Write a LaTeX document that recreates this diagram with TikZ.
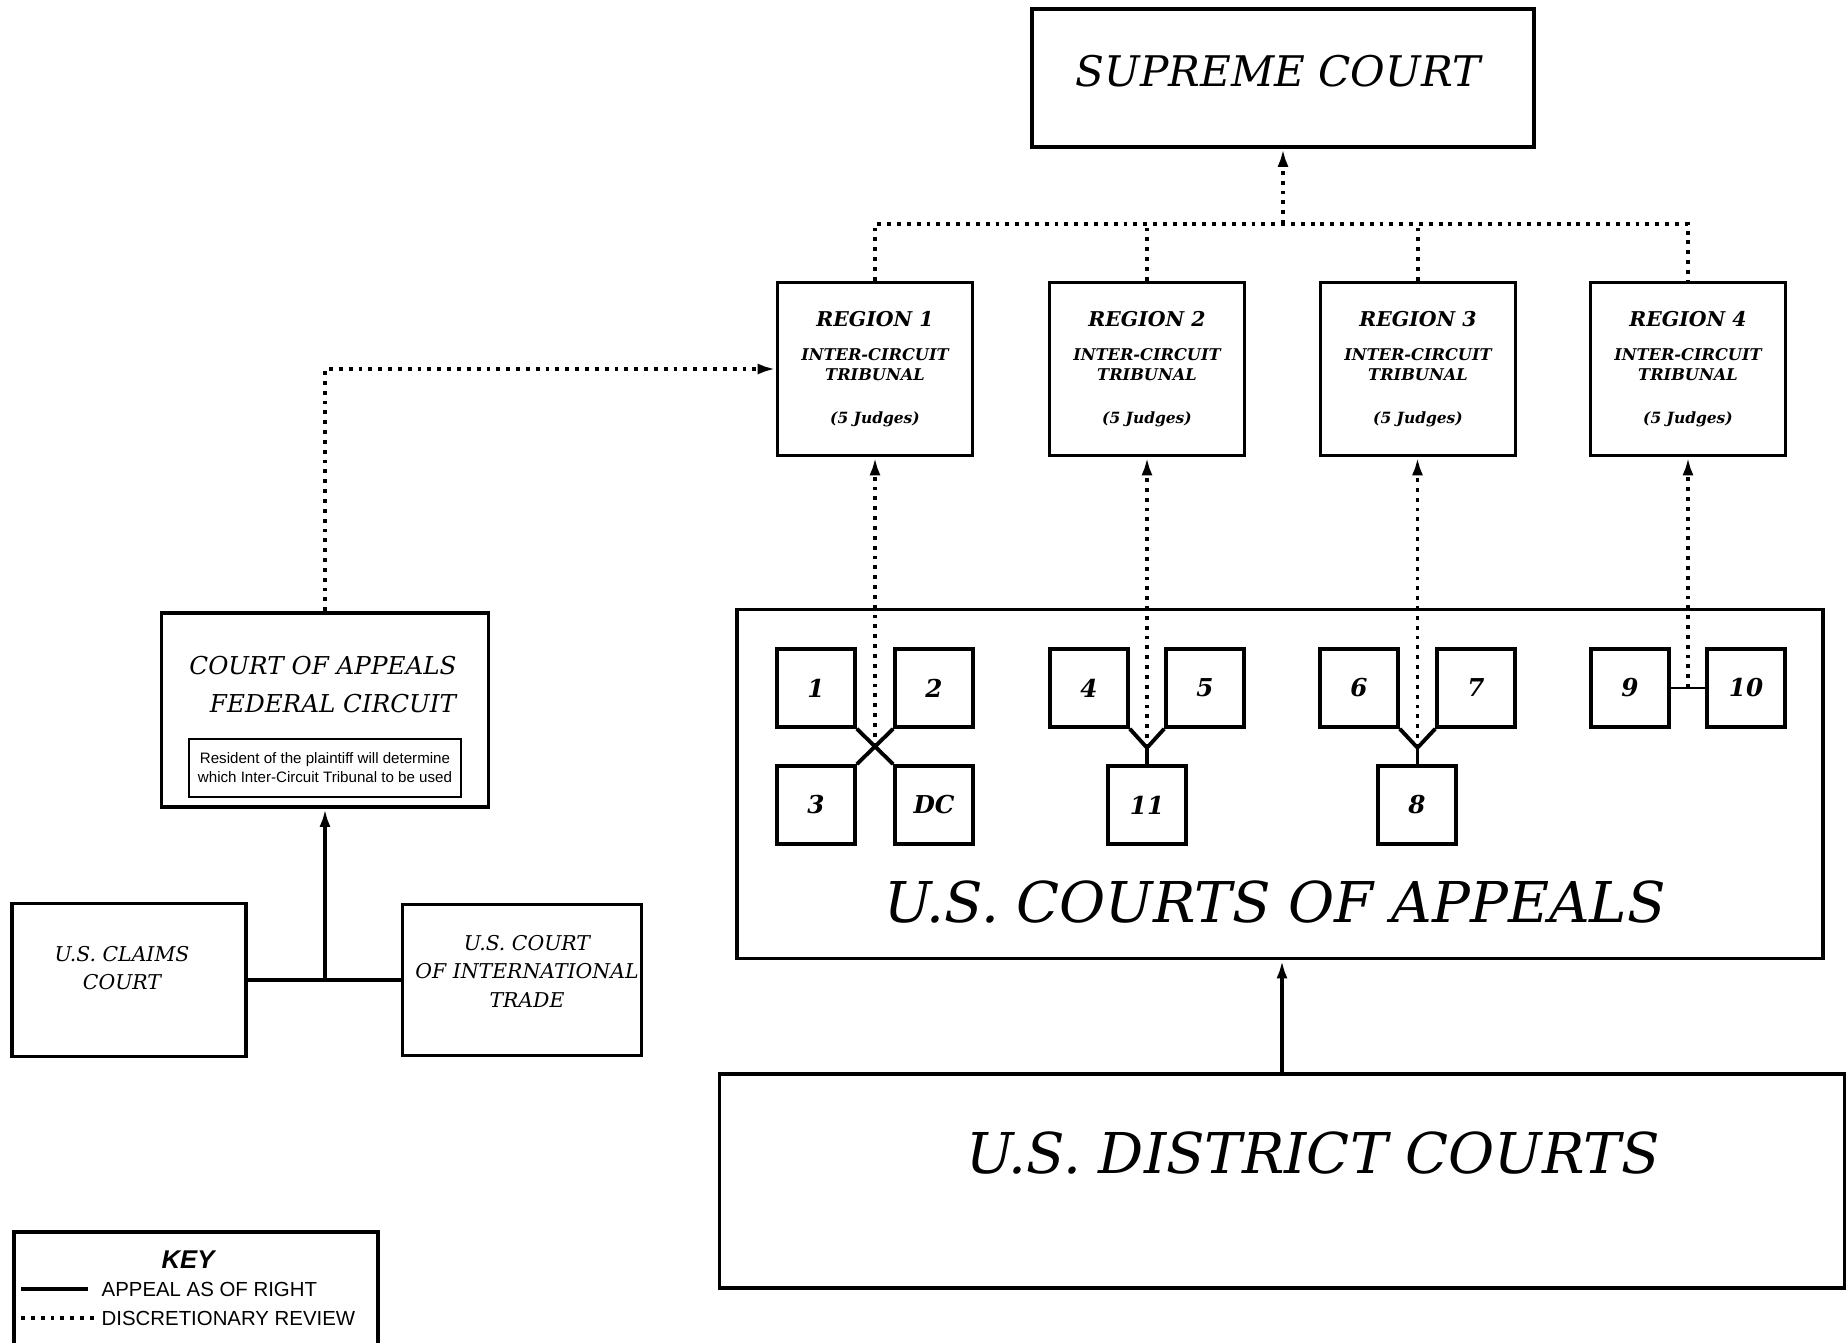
\documentclass[tikz,border=0pt]{standalone}
\usepackage{fontspec}
\setmainfont{DejaVu Serif}
\newfontfamily\keyfont{Liberation Sans}
\usetikzlibrary{arrows.meta,calc}

\tikzset{
  courtbox/.style={draw,line width=1pt,inner sep=0pt},
  regionbox/.style={courtbox,minimum width=1.95cm,minimum height=1.73cm,align=center,font=\bfseries\itshape\fontsize{4.6}{5.7}\selectfont},
  smallcourt/.style={courtbox,minimum width=0.78cm,minimum height=0.78cm,font=\bfseries\itshape\fontsize{7}{8}\selectfont},
  notebox/.style={draw,line width=.6pt,inner sep=1pt,minimum width=2.71cm,minimum height=.58cm,align=center,font=\keyfont\fontsize{4.3}{5.4}\selectfont},
  bigtitle/.style={font=\itshape\fontsize{12}{14}\selectfont},
  hugetitle/.style={font=\itshape\fontsize{16}{18}\selectfont},
  midtitle/.style={font=\itshape\fontsize{7}{8}\selectfont},
  smalltitle/.style={align=center,font=\itshape\fontsize{5.8}{8.1}\selectfont},
  keytitle/.style={font=\keyfont\bfseries\itshape\fontsize{7.3}{8}\selectfont},
  keytext/.style={inner sep=0pt,anchor=west,font=\keyfont\fontsize{5.8}{7}\selectfont},
  asright/.style={line width=1.1pt},
  review/.style={line width=1.1pt,dash pattern=on 1.1pt off 1.7pt},
  uptip/.style={-{Latex[length=1.8mm,width=1.1mm]}}
}

\newcommand\regionlabel[1]{{\fontsize{5.8}{5.7}\selectfont REGION #1}\\[4pt]INTER-CIRCUIT\\TRIBUNAL\\[6.5pt]{\fontsize{4.4}{5.7}\selectfont (5 Judges)}}

\begin{document}
\begin{tikzpicture}[x=0.01cm,y=-0.01cm]
\useasboundingbox (0,0) rectangle (1847,1343);

\node[courtbox,minimum width=5.02cm,minimum height=1.38cm] (supreme) at (1283,78) {};
\node[bigtitle] at (1278,71) {SUPREME COURT};

\node[regionbox] (r1) at (875,369) {\regionlabel{1}};
\node[regionbox] (r2) at (1147,369) {\regionlabel{2}};
\node[regionbox] (r3) at (1418,369) {\regionlabel{3}};
\node[regionbox] (r4) at (1688,369) {\regionlabel{4}};

\coordinate (top) at (supreme.south |- 0,224);
\draw[review] (r1.north) -- (r1.north |- top) -- (r4.north |- top) -- (r4.north);
\draw[review] (r2.north) -- (r2.north |- top);
\draw[review] (r3.north) -- (r3.north |- top);
\draw[review,uptip] (top) -- (supreme.south);

\node[courtbox,minimum width=10.85cm,minimum height=3.49cm] (appeals) at (1280,784) {};
\node[hugetitle] at (1275,902) {U.S. COURTS OF APPEALS};

\node[smallcourt] (c1) at (816,688) {1};
\node[smallcourt] (c2) at (934,688) {2};
\node[smallcourt] (c3) at (816,805) {3};
\node[smallcourt] (cDC) at (934,805) {DC};
\node[smallcourt] (c4) at (1089,688) {4};
\node[smallcourt] (c5) at (1205,688) {5};
\node[smallcourt] (c11) at (1147,805) {11};
\node[smallcourt] (c6) at (1359,688) {6};
\node[smallcourt] (c7) at (1476,688) {7};
\node[smallcourt] (c8) at (1417,805) {8};
\node[smallcourt] (c9) at (1630,688) {9};
\node[smallcourt] (c10) at (1746,688) {10};

\draw[asright] (c1.south east) -- (cDC.north west);
\draw[asright] (c2.south west) -- (c3.north east);
\coordinate (x1) at ($(c1.south east)!.5!(cDC.north west)$);
\draw[review,uptip] (x1) -- (x1 |- r1.south);

\coordinate (x2) at ($(c4.south east)!.5!(c5.south west)+(0,19)$);
\draw[asright] (c4.south east) -- (x2) -- (c5.south west);
\draw[asright] (x2) -- (c11.north);
\draw[review,uptip] (x2) -- (x2 |- r2.south);

\coordinate (x3) at ($(c6.south east)!.5!(c7.south west)+(0,19)$);
\draw[asright] (c6.south east) -- (x3) -- (c7.south west);
\draw[asright] (x3) -- (x3 |- c8.north);
\draw[review,uptip] (x3) -- (x3 |- r3.south);

\coordinate (x4) at ($(c9.east)!.5!(c10.west)$);
\draw[line width=.8pt] (c9) -- (c10);
\draw[review,uptip] (x4) -- (x4 |- r4.south);

\node[courtbox,minimum width=11.24cm,minimum height=2.14cm] (district) at (1282,1181) {};
\node[hugetitle] at (1313,1153) {U.S. DISTRICT COURTS};
\draw[asright,uptip] (district.north) -- (district.north |- appeals.south);

\node[courtbox,minimum width=3.27cm,minimum height=1.94cm] (cafc) at (325,710) {};
\node[midtitle] at (323,666) {COURT OF APPEALS};
\node[midtitle] at (333,704) {FEDERAL CIRCUIT};
\node[notebox] (note) at (325,768) {Resident of the plaintiff will determine\\which Inter-Circuit Tribunal to be used};
\draw[review,uptip] (cafc.north) |- (r1.west);

\node[courtbox,minimum width=2.34cm,minimum height=1.53cm] (claims) at (129,980) {};
\node[smalltitle] at (122,968) {U.S. CLAIMS\\COURT};
\node[courtbox,minimum width=2.39cm,minimum height=1.51cm] (trade) at (522,980) {};
\node[smalltitle] at (527,971) {U.S. COURT\\OF INTERNATIONAL\\TRADE};
\draw[asright] (claims.east) -- (trade.west);
\coordinate (join) at (cafc.south |- claims.east);
\draw[asright,uptip] (join) -- (cafc.south);

\node[courtbox,minimum width=3.64cm,minimum height=1.6cm,anchor=north west] (key) at (12,1230) {};
\node[keytitle] at (188,1260) {KEY};
\node[keytext] (k1) at (101,1289) {APPEAL AS OF RIGHT};
\node[keytext] (k2) at (101,1318) {DISCRETIONARY REVIEW};
\draw[asright] ([xshift=.9mm]k1.west -| key.west) -- ([xshift=-1.3mm]k1.west);
\draw[review] ([xshift=.9mm]k2.west -| key.west) -- ([xshift=-.7mm]k2.west);

\end{tikzpicture}
\end{document}
